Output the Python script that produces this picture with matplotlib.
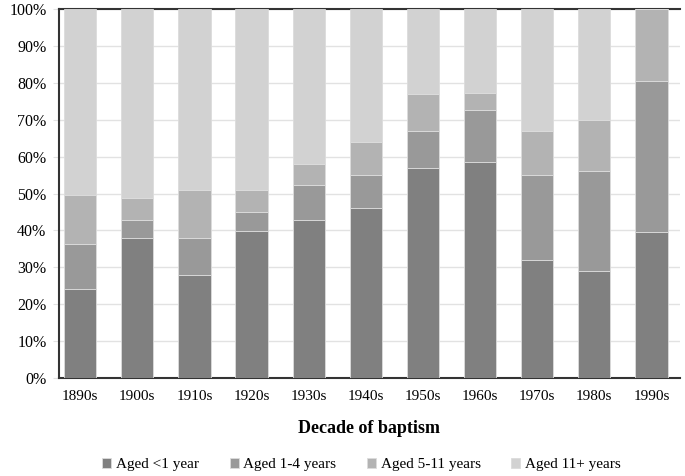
import numpy as np
import matplotlib
matplotlib.use('Agg')
from matplotlib import pyplot as plt
from matplotlib.ticker import PercentFormatter

# procente
decade = ['1890s', '1900s', '1910s', '1920s', '1930s', '1940s',
          '1950s', '1960s', '1970s', '1980s', '1990s']
sub_1 = [24.1, 38.0, 28.0, 39.9, 42.8, 46.1, 56.9, 58.6, 31.9, 29.1, 39.6]
ani_1_4 = [12.3, 4.9, 10.0, 5.0, 9.6, 9.0, 10.0, 14.0, 23.2, 27.0, 40.9]
ani_5_11 = [13.1, 5.9, 12.9, 6.0, 5.7, 8.9, 10.1, 4.7, 11.8, 13.9, 19.5]
peste_11 = [50.5, 51.2, 49.1, 49.1, 41.9, 36.0, 23.0, 22.7, 33.1, 30.0, 0.0]

serii = [('Aged <1 year', sub_1, '#808080'),
         ('Aged 1-4 years', ani_1_4, '#999999'),
         ('Aged 5-11 years', ani_5_11, '#b3b3b3'),
         ('Aged 11+ years', peste_11, '#d2d2d2')]

plt.rcParams['font.family'] = 'Liberation Serif'

fig = plt.figure(figsize=(6.85, 4.76), dpi=100)
ax = fig.add_axes([0.0861, 0.2059, 0.9066, 0.775])

x = np.arange(len(decade))
baza = np.zeros(len(decade))
for nume, val, col in serii:
    ax.bar(x, val, 0.565, bottom=baza, color=col, label=nume,
           edgecolor='#dcdcdc', linewidth=0.6, zorder=3)
    baza = baza + np.array(val)

ax.set_xlim(-0.37, 10.5)
ax.set_ylim(0, 100)
ax.set_yticks(np.arange(0, 101, 10))
ax.yaxis.set_major_formatter(PercentFormatter(decimals=0))
ax.set_xticks(x)
ax.set_xticklabels(decade)
ax.grid(axis='y', color='#e2e2e2', linewidth=1, zorder=0)
ax.tick_params(axis='y', length=4, color='#e2e2e2', labelsize=11.5, pad=5)
ax.tick_params(axis='x', length=0, labelsize=11, pad=9)

for s in ['left', 'top', 'bottom']:
    ax.spines[s].set_color('#333333')
    ax.spines[s].set_linewidth(1.5)
ax.spines['right'].set_visible(False)

ax.set_xlabel('Decade of baptism', fontsize=13, fontweight='bold', labelpad=12)

ax.legend(loc='center', bbox_to_anchor=(0.487, -0.235), ncol=4, frameon=False,
          fontsize=11, handlelength=0.6, handleheight=0.6, handletextpad=0.3,
          columnspacing=2.0)

fig.savefig('out.png', dpi=100)
